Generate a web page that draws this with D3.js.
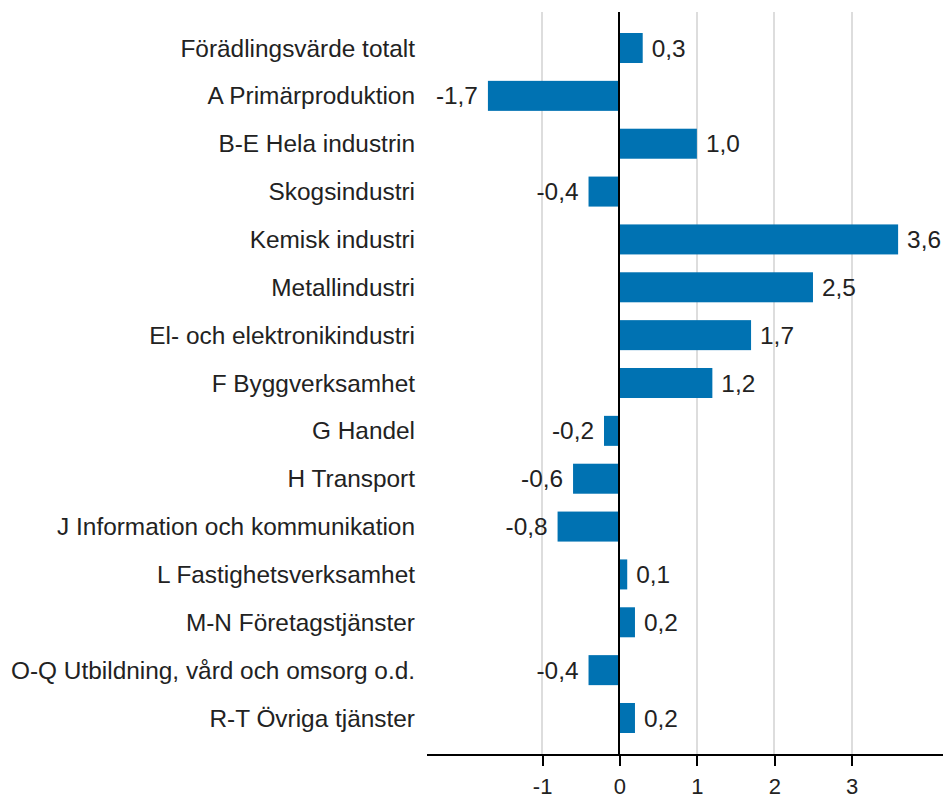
<!DOCTYPE html>
<meta charset="utf-8">
<style>
body { margin: 0; background: #fff; }
text { font-family: "Liberation Sans", Arial, sans-serif; font-size: 24.4px; fill: #222; }
.grid line { stroke: #ddd; stroke-width: 2; shape-rendering: crispEdges; }
.axis path, .axis line { stroke: #000; stroke-width: 2; fill: none; shape-rendering: crispEdges; }
.axis text { font-family: "Liberation Sans", Arial, sans-serif; font-size: 22px; fill: #222; }
</style>
<div id="chart"></div>
<script src="https://d3js.org/d3.v7.min.js"></script>
<script>
var categories = [
  "Förädlingsvärde totalt",
  "A Primärproduktion",
  "B-E Hela industrin",
  "Skogsindustri",
  "Kemisk industri",
  "Metallindustri",
  "El- och elektronikindustri",
  "F Byggverksamhet",
  "G Handel",
  "H Transport",
  "J Information och kommunikation",
  "L Fastighetsverksamhet",
  "M-N Företagstjänster",
  "O-Q Utbildning, vård och omsorg o.d.",
  "R-T Övriga tjänster"
];
var values = [0.3, -1.7, 1.0, -0.4, 3.6, 2.5, 1.7, 1.2, -0.2, -0.6, -0.8, 0.1, 0.2, -0.4, 0.2];
var tickValues = [-1, 0, 1, 2, 3];

var w = 943, h = 798,
  top_pad = 12, axis_y = 754;

var svg = d3.select("#chart").append("svg")
  .attr("width", w)
  .attr("height", h);

var x = d3.scaleLinear().domain([-2.5, 4.18]).range([426, 943]);
var y = d3.scaleBand().domain(categories).range([33, 733]).paddingInner(0.373).paddingOuter(0);

// vertical grid
svg.append("g").attr("class", "grid")
  .selectAll("line")
  .data(tickValues.filter(function (d) { return d !== 0; }))
  .enter().append("line")
  .attr("x1", function (d) { return Math.round(x(d)); })
  .attr("x2", function (d) { return Math.round(x(d)); })
  .attr("y1", top_pad)
  .attr("y2", axis_y);

// bars
svg.selectAll("rect.bar")
  .data(values)
  .enter().append("rect")
  .attr("class", "bar")
  .attr("fill", "#0072b2")
  .attr("x", function (d) { return x(Math.min(0, d)); })
  .attr("y", function (d, i) { return y(categories[i]); })
  .attr("width", function (d) { return Math.abs(x(d) - x(0)); })
  .attr("height", y.bandwidth());

// value labels
var fmt = function (d) { return d3.format(".1f")(d).replace(".", ",").replace("−", "-"); };
svg.selectAll("text.val")
  .data(values)
  .enter().append("text")
  .attr("class", "val")
  .attr("x", function (d) { return d < 0 ? x(d) - 10 : x(d) + 9; })
  .attr("y", function (d, i) { return y(categories[i]) + y.bandwidth() / 2; })
  .attr("dy", "0.35em")
  .attr("text-anchor", function (d) { return d < 0 ? "end" : "start"; })
  .text(fmt);

// category labels
svg.selectAll("text.cat")
  .data(categories)
  .enter().append("text")
  .attr("class", "cat")
  .attr("x", 415)
  .attr("y", function (d) { return y(d) + y.bandwidth() / 2; })
  .attr("dy", "0.35em")
  .attr("text-anchor", "end")
  .text(function (d) { return d; });

// zero line
svg.append("line")
  .attr("x1", Math.round(x(0))).attr("x2", Math.round(x(0)))
  .attr("y1", top_pad).attr("y2", axis_y)
  .attr("stroke", "#000").attr("stroke-width", 2)
  .style("shape-rendering", "crispEdges");

// bottom axis
var xAxis = d3.axisBottom(x)
  .tickValues(tickValues)
  .tickSize(12)
  .tickPadding(12)
  .tickSizeOuter(0)
  .tickFormat(function (d) { return String(d); });

svg.append("g")
  .attr("class", "axis")
  .attr("transform", "translate(0," + axis_y + ")")
  .call(xAxis);
</script>
